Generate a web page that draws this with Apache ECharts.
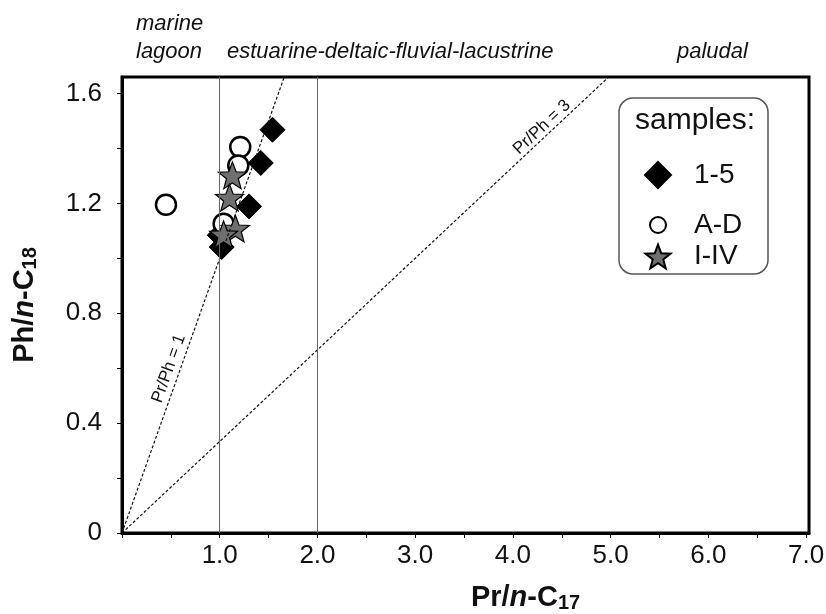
<!DOCTYPE html>
<html>
<head>
<meta charset="utf-8">
<script src="https://cdn.jsdelivr.net/npm/echarts@6/dist/echarts.min.js"></script>
<style>
  html, body { margin: 0; background: #fff; }
  #chart { width: 826px; height: 614px; }
</style>
</head>
<body>
<div id="chart"></div>
<script>
// samples: [Pr/n-C17, Ph/n-C18]
const samples15 = [[1.54, 1.468], [1.42, 1.347], [1.30, 1.189], [1.02, 1.041], [1.00, 1.084]];
const samplesAD = [[0.45, 1.195], [1.21, 1.405], [1.19, 1.338], [1.04, 1.126]];
const samplesIIV = [[1.13, 1.302], [1.10, 1.221], [1.16, 1.108], [1.04, 1.087]];

// reference lines
const prPh1Line = [[0, 0], [1.66, 1.66]];
const prPh3Line = [[0, 0], [4.98, 1.66]];
const zoneBounds = [1.0, 2.0];

// axes
const xMax = 7.03;
const yMax = 1.66;
const xTicks = [0, 0.5, 1, 1.5, 2, 2.5, 3, 3.5, 4, 4.5, 5, 5.5, 6, 6.5, 7];
const xLabels = [1, 2, 3, 4, 5, 6, 7];
const yTicks = [0, 0.2, 0.4, 0.6, 0.8, 1.0, 1.2, 1.4, 1.6];
const yLabels = [0, 0.4, 0.8, 1.2, 1.6];

const FONT = '"Liberation Sans", Arial, sans-serif';

function starPath(R, r) {
  let d = '';
  for (let i = 0; i < 10; i++) {
    const a = -Math.PI / 2 + i * Math.PI / 5;
    const rad = i % 2 ? r : R;
    d += (i ? 'L' : 'M') + (R + rad * Math.cos(a)).toFixed(2) + ',' + (R + rad * Math.sin(a)).toFixed(2);
  }
  return 'path://' + d + 'Z';
}
const STAR = starPath(50, 21);

const chart = echarts.init(document.getElementById('chart'), null, { renderer: 'canvas' });

const nameRich = {
  b: { fontFamily: FONT, fontWeight: 'bold', fontSize: 29, color: '#111', verticalAlign: 'top', lineHeight: 30 },
  i: { fontFamily: FONT, fontWeight: 'bold', fontStyle: 'italic', fontSize: 29, color: '#111', verticalAlign: 'top', lineHeight: 30 },
  s: { fontFamily: FONT, fontWeight: 'bold', fontSize: 20, color: '#111', verticalAlign: 'bottom', lineHeight: 20, padding: [14, 0, 0, 0] }
};

// one legend per marker so each icon keeps its own size; icon centred at x=657, text from x=693
function legendAt(name, centerY, size) {
  const left = 657 - size / 2;
  return {
    data: [name], orient: 'vertical', left: left, top: centerY - size / 2,
    itemWidth: size, itemHeight: size, padding: 0, selectedMode: false,
    textStyle: { fontFamily: FONT, fontSize: 28, color: '#111', padding: [0, 0, 0, 693 - (left + size + 5)] }
  };
}

function zoneText(text, x, y) {
  return { type: 'text', style: { text: text, x: x, y: y, fontFamily: FONT, fontStyle: 'italic', fontSize: 22, fill: '#111', verticalAlign: 'middle' } };
}

const option = {
  backgroundColor: '#fff',
  animation: false,
  grid: {
    left: 122, right: 17, top: 77, bottom: 81, outerBoundsMode: 'none', containLabel: false,
    show: true, borderColor: '#000', borderWidth: 3, backgroundColor: 'transparent'
  },
  xAxis: {
    type: 'value', min: 0, max: xMax,
    name: '{b|Pr/}{i|n}{b|-C}{s|17}', nameLocation: 'middle', nameGap: 50,
    nameTextStyle: { rich: nameRich, padding: [0, 0, 0, 120] },
    axisLine: { onZero: false, lineStyle: { color: '#000', width: 3 } },
    axisTick: { show: true, length: 5, lineStyle: { color: '#000', width: 1 }, customValues: xTicks },
    axisLabel: { customValues: xLabels, formatter: v => v.toFixed(1), fontFamily: FONT, fontSize: 26, color: '#111', margin: 10 },
    splitLine: { show: false }
  },
  yAxis: {
    type: 'value', min: 0, max: yMax,
    name: '{b|Ph/}{i|n}{b|-C}{s|18}', nameLocation: 'middle', nameGap: 82, nameRotate: 90,
    nameTextStyle: { rich: nameRich },
    axisLine: { onZero: false, lineStyle: { color: '#000', width: 3 } },
    axisTick: { show: true, length: 5, lineStyle: { color: '#000', width: 1 }, customValues: yTicks },
    axisLabel: { customValues: yLabels, formatter: v => (v === 0 ? '0' : v.toFixed(1)), fontFamily: FONT, fontSize: 26, color: '#111', margin: 20 },
    splitLine: { show: false }
  },
  legend: [
    legendAt('1-5', 174, 26),
    legendAt('A-D', 219, 16),
    legendAt('I-IV', 255, 25)
  ],
  series: [
    {
      name: 'zones', type: 'line', data: [], silent: true,
      markLine: {
        silent: true, symbol: 'none', animation: false,
        label: { show: false },
        lineStyle: { color: '#666', width: 1, type: 'solid' },
        data: zoneBounds.map(v => ({ xAxis: v }))
      }
    },
    {
      name: 'Pr/Ph = 1', type: 'line', data: prPh1Line, symbol: 'none', silent: true,
      lineStyle: { color: '#111', width: 1.2, type: [3, 2] }
    },
    {
      name: 'Pr/Ph = 3', type: 'line', data: prPh3Line, symbol: 'none', silent: true,
      lineStyle: { color: '#111', width: 1.2, type: [3, 2] }
    },
    {
      name: '1-5', type: 'scatter', data: samples15, symbol: 'diamond', symbolSize: 25,
      itemStyle: { color: '#000', borderColor: '#000', borderWidth: 1, opacity: 1 }
    },
    {
      name: 'A-D', type: 'scatter', data: samplesAD, symbol: 'circle', symbolSize: 20,
      itemStyle: { color: '#fff', borderColor: '#000', borderWidth: 2.5, opacity: 1 }
    },
    {
      name: 'I-IV', type: 'scatter', data: samplesIIV, symbol: STAR, symbolSize: 28, symbolKeepAspect: true,
      itemStyle: { color: '#6f6f6f', borderColor: '#000', borderWidth: 1.2, opacity: 1 }
    }
  ],
  graphic: [
    { type: 'rect', shape: { x: 619, y: 98, width: 149, height: 176, r: 14 }, style: { fill: '#fff', stroke: '#555', lineWidth: 1.5 }, z: -1 },
    { type: 'text', style: { text: 'samples:', x: 635, y: 121, fontFamily: FONT, fontSize: 30, fill: '#111', verticalAlign: 'middle' } },
    zoneText('marine', 136, 24),
    zoneText('lagoon', 136, 52),
    zoneText('estuarine-deltaic-fluvial-lacustrine', 227, 52),
    zoneText('paludal', 677, 52)
  ]
};

chart.setOption(option);

// labels along the ratio lines, placed from the axes' own scale
function lineLabel(text, line, atX, offset) {
  const p0 = chart.convertToPixel({ gridIndex: 0 }, line[0]);
  const p1 = chart.convertToPixel({ gridIndex: 0 }, line[1]);
  const dx = p1[0] - p0[0], dy = p1[1] - p0[1];
  const len = Math.hypot(dx, dy);
  const slope = (line[1][1] - line[0][1]) / (line[1][0] - line[0][0]);
  const p = chart.convertToPixel({ gridIndex: 0 }, [atX, atX * slope]);
  const nx = dy / len, ny = -dx / len; // normal pointing up-left
  return {
    type: 'text',
    x: p[0] + nx * offset, y: p[1] + ny * offset,
    rotation: Math.atan2(-dy, dx),
    style: { text: text, fontFamily: FONT, fontSize: 17, fill: '#111', align: 'center', verticalAlign: 'middle' }
  };
}

chart.setOption({
  graphic: option.graphic.concat([
    lineLabel('Pr/Ph = 1', prPh1Line, 0.585, 11),
    lineLabel('Pr/Ph = 3', prPh3Line, 4.36, 9)
  ])
});
</script>
</body>
</html>
